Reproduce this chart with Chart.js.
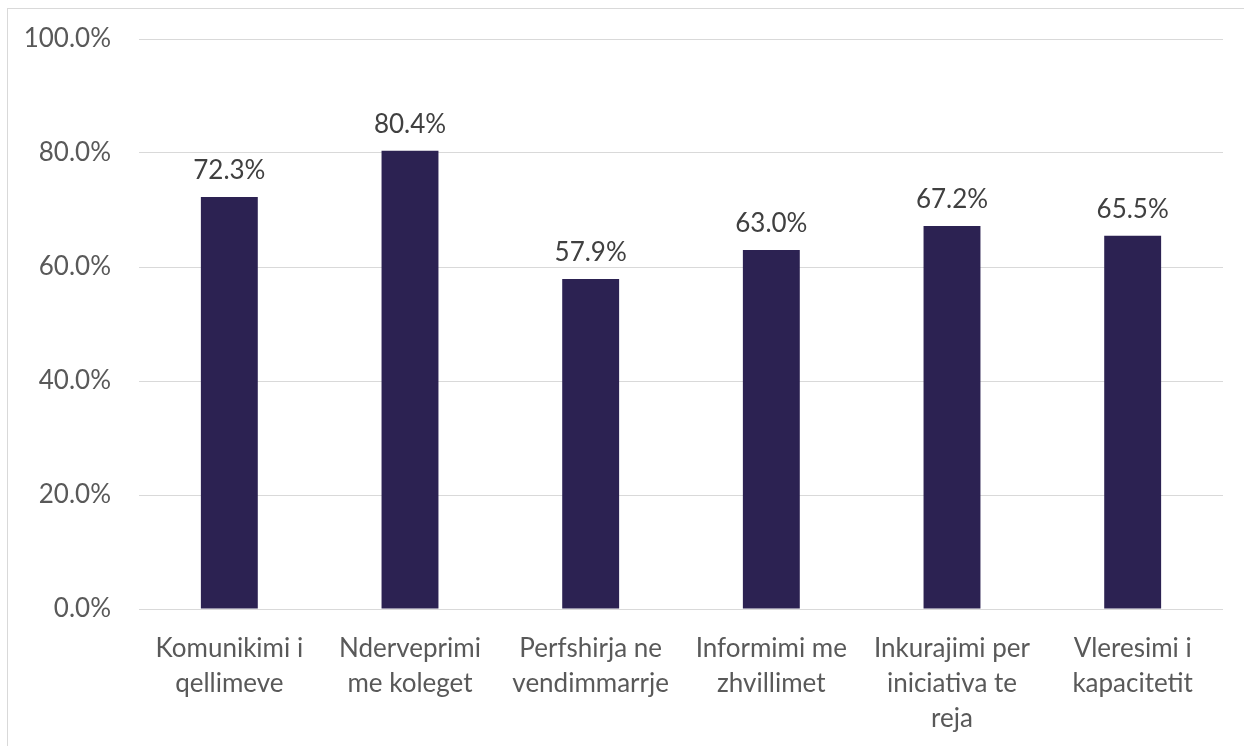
<!DOCTYPE html>
<html>
<head>
<meta charset="utf-8">
<script src="https://cdn.jsdelivr.net/npm/chart.js@4"></script>
<style>
  html, body { margin: 0; padding: 0; background: #fff; overflow: hidden; }
  #frame { position: absolute; left: 7px; top: 8px; width: 1300px; height: 800px; border: 1px solid #d9d9d9; }
  #wrap { position: absolute; left: 0; top: 0; width: 1244px; height: 746px; }
</style>
</head>
<body>
<div id="frame"></div>
<div id="wrap"><canvas id="canvas"></canvas></div>
<script>
const labels = [
  ['Komunikimi i', 'qellimeve'],
  ['Nderveprimi', 'me koleget'],
  ['Perfshirja ne', 'vendimmarrje'],
  ['Informimi me', 'zhvillimet'],
  ['Inkurajimi per', 'iniciativa te', 'reja'],
  ['Vleresimi i', 'kapacitetit']
];
const values = [72.3, 80.4, 57.9, 63.0, 67.2, 65.5];
const yTicks = [0, 20, 40, 60, 80, 100];

const fontFamily = 'Lato, "Open Sans", sans-serif';

// labels above the bars
const valueLabels = {
  id: 'valueLabels',
  afterDatasetsDraw(chart) {
    const ctx = chart.ctx;
    const meta = chart.getDatasetMeta(0);
    ctx.save();
    ctx.font = '26px ' + fontFamily;
    ctx.fillStyle = '#404040';
    ctx.textAlign = 'center';
    ctx.textBaseline = 'alphabetic';
    meta.data.forEach((bar, i) => {
      ctx.fillText(values[i].toFixed(1) + '%', bar.x, bar.y - 18);
    });
    ctx.restore();
  }
};

var ctx = document.getElementById('canvas').getContext('2d');
var chart = new Chart(ctx, {
  type: 'bar',
  data: {
    labels: labels,
    datasets: [{
      data: values,
      backgroundColor: '#2c2252',
      borderWidth: 0,
      barPercentage: 0.315,
      categoryPercentage: 1
    }]
  },
  plugins: [valueLabels],
  options: {
    responsive: true,
    maintainAspectRatio: false,
    animation: false,
    layout: { padding: { top: 39, right: 21, left: 0, bottom: 0 } },
    plugins: {
      legend: { display: false },
      tooltip: { enabled: false }
    },
    scales: {
      x: {
        grid: { display: false, drawTicks: false },
        border: { display: false },
        ticks: {
          color: '#595959',
          font: { family: fontFamily, size: 26, lineHeight: 1.35 },
          padding: 22,
          maxRotation: 0,
          autoSkip: false
        },
        afterFit(scale) { scale.height = 137; }
      },
      y: {
        min: 0,
        max: 100,
        afterBuildTicks(scale) { scale.ticks = yTicks.map(v => ({ value: v })); },
        grid: { color: '#d9d9d9', lineWidth: 1, drawTicks: false },
        border: { display: false },
        ticks: {
          color: '#595959',
          font: { family: fontFamily, size: 26 },
          padding: 28,
          callback: v => v.toFixed(1) + '%'
        },
        afterFit(scale) {
          scale.width = 139;
          scale.paddingTop = 0;
          scale.paddingBottom = 0;
        }
      }
    }
  }
});
</script>
</body>
</html>
